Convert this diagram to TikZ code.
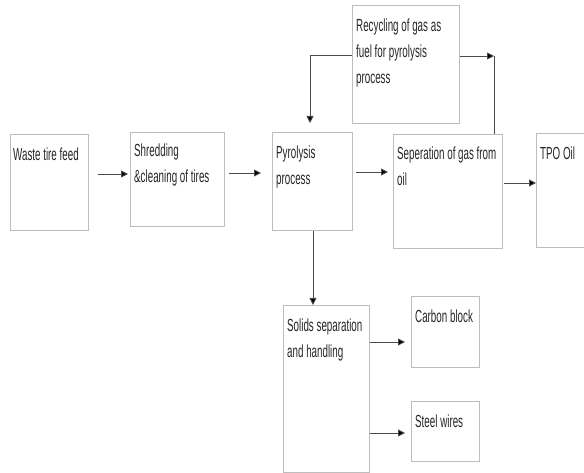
\documentclass[tikz,border=0pt]{standalone}
\usepackage{fontspec}
\setmainfont[FakeStretch=0.56]{Liberation Sans}
\usetikzlibrary{arrows.meta,calc}
\definecolor{boxgray}{HTML}{BDBDBD}
\definecolor{linegray}{HTML}{4A4A4A}
\definecolor{txtgray}{HTML}{252525}
\tikzset{
  procbox/.style={draw=boxgray, line width=1pt, inner sep=0pt, anchor=north west},
  lbl/.style={anchor=north west, inner sep=0pt, text=txtgray, align=left,
    font=\fontsize{17.5}{26}\selectfont, execute at begin node={\rule{0pt}{13pt}}},
  arr/.style={draw=linegray, line width=0.9pt, -{Triangle[length=7pt,width=7pt,fill=black]}},
  ln/.style={draw=linegray, line width=0.9pt},
}
\begin{document}
\begin{tikzpicture}[x=1pt,y=-1pt]
\useasboundingbox (0,0) rectangle (584,473);
% boxes
\node[procbox, minimum width=78pt, minimum height=96pt] (waste) at (10,134) {};
\node[procbox, minimum width=94pt, minimum height=94pt] (shred) at (130,132) {};
\node[procbox, minimum width=80pt, minimum height=98pt] (pyro) at (272,132) {};
\node[procbox, minimum width=107pt, minimum height=118pt] (rec) at (352,5) {};
\node[procbox, minimum width=109pt, minimum height=114pt] (sep) at (393,134) {};
\node[procbox, minimum width=70pt, minimum height=114pt] (tpo) at (536,133) {};
\node[procbox, minimum width=86pt, minimum height=167pt] (solid) at (283,305) {};
\node[procbox, minimum width=68pt, minimum height=71pt] (carbon) at (411,296) {};
\node[procbox, minimum width=68pt, minimum height=60pt] (steel) at (411,401) {};
% labels (first baseline about 26pt below the box top)
\node[lbl] (twaste) at ($(waste.north west)+(3,13)$) {Waste tire feed};
\node[lbl] (tshred) at ($(shred.north west)+(4,12)$) {Shredding\\\&cleaning of tires};
\node[lbl] (tpyro) at ($(pyro.north west)+(4,14)$) {Pyrolysis\\process};
\node[lbl] (trec) at ($(rec.north west)+(4,14)$) {Recycling of gas as\\fuel for pyrolysis\\process};
\node[lbl] (tsep) at ($(sep.north west)+(4,13)$) {Seperation of gas from\\oil};
\node[lbl] (ttpo) at ($(tpo.north west)+(4,13)$) {TPO Oil};
\node[lbl] (tsolid) at ($(solid.north west)+(4,14)$) {Solids separation\\and handling};
\node[lbl] (tcarbon) at ($(carbon.north west)+(4,13)$) {Carbon block};
\node[lbl] (tsteel) at ($(steel.north west)+(4,13)$) {Steel wires};
% connector corners
\coordinate (c1) at (310,55);
\coordinate (c2) at (494,56);
% arrows
\draw[arr, shorten <=9pt, shorten >=2pt] (waste.east |- 0,174) -- (shred.west |- 0,174);
\draw[arr, shorten <=4pt, shorten >=11pt] (shred.east |- 0,173) -- (pyro.west |- 0,173);
\draw[arr, shorten <=3pt, shorten >=5pt] (pyro.east |- 0,172) -- (sep.west |- 0,172);
\draw[arr, shorten <=1pt] (sep.east |- 0,183) -- (tpo.west |- 0,183);
\draw[arr, shorten >=9pt] (rec.west |- c1) -- (c1) -- (c1 |- pyro.north);
\draw[arr] (rec.east |- c2) -- (c2);
\draw[ln] (sep.north -| c2) -- (c2);
\draw[arr] (pyro.south -| 313,0) -- (solid.north -| 313,0);
\draw[arr, shorten >=6pt] (solid.east |- 0,342) -- (carbon.west |- 0,342);
\draw[arr, shorten >=6pt] (solid.east |- 0,433) -- (steel.west |- 0,433);
\end{tikzpicture}
\end{document}
